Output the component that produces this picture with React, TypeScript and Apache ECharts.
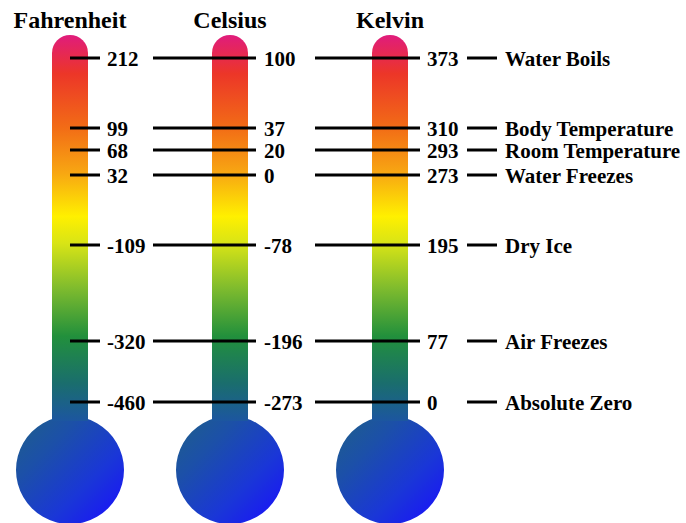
import React, { useEffect, useRef } from "react";
import * as echarts from "echarts";

const scaleNames = ["Fahrenheit", "Celsius", "Kelvin"];
const fahrenheitLabels = ["212", "99", "68", "32", "-109", "-320", "-460"];
const celsiusLabels = ["100", "37", "20", "0", "-78", "-196", "-273"];
const kelvinLabels = ["373", "310", "293", "273", "195", "77", "0"];
const descriptions = [
  "Water Boils",
  "Body Temperature",
  "Room Temperature",
  "Water Freezes",
  "Dry Ice",
  "Air Freezes",
  "Absolute Zero",
];
// schematic vertical level of each reference point (y-axis units, inverted)
const rowLevels = [58, 128, 150, 175, 245, 341, 402];

const FONT_FAMILY = "'Times New Roman', 'Liberation Serif', serif";

export default function App() {
  const ref = useRef<HTMLDivElement>(null);

  useEffect(() => {
    document.body.style.margin = "0";
    const chart = echarts.init(ref.current!, null, { renderer: "svg" });

    const tubeGradient = new echarts.graphic.LinearGradient(0, 0, 0, 1, [
      { offset: 0, color: "#e01c7c" },
      { offset: 0.1, color: "#ec3628" },
      { offset: 0.24, color: "#f26c16" },
      { offset: 0.36, color: "#f8a812" },
      { offset: 0.47, color: "#fff000" },
      { offset: 0.54, color: "#d8e416" },
      { offset: 0.66, color: "#7cba2e" },
      { offset: 0.78, color: "#22903c" },
      { offset: 0.9, color: "#1a6e6c" },
      { offset: 1, color: "#1c56a0" },
    ]);
    const bulbGradient = new echarts.graphic.LinearGradient(0, 0, 1, 1, [
      { offset: 0, color: "#1e6088" },
      { offset: 0.3, color: "#1c50a8" },
      { offset: 0.65, color: "#1a36d8" },
      { offset: 1, color: "#1a0cff" },
    ]);

    const rowData = rowLevels.map((lvl, i) => [i, lvl]);

    chart.setOption({
      animation: false,
      grid: { left: 70, right: 136, top: 0, bottom: 0 },
      xAxis: {
        type: "category",
        data: [...scaleNames, "Event"],
        boundaryGap: false,
        show: false,
      },
      yAxis: { type: "value", min: 0, max: 523, inverse: true, show: false },
      series: [
        {
          type: "custom",
          silent: true,
          clip: false,
          data: scaleNames.map((_, i) => [i, 0]),
          renderItem: (params: any, api: any) => {
            const idx = api.value(0);
            const top = api.coord([idx, 35]);
            const bottom = api.coord([idx, 421]);
            const bulb = api.coord([idx, 470]);
            const titlePos = api.coord([idx, 20]);
            const cx = top[0];
            return {
              type: "group",
              children: [
                {
                  type: "circle",
                  shape: { cx, cy: bulb[1], r: 54 },
                  style: { fill: bulbGradient },
                },
                {
                  type: "rect",
                  shape: { x: cx - 18, y: top[1], width: 36, height: bottom[1] - top[1], r: [18, 18, 0, 0] },
                  style: { fill: tubeGradient },
                },
                {
                  type: "text",
                  style: {
                    text: scaleNames[idx],
                    x: cx,
                    y: titlePos[1],
                    align: "center",
                    verticalAlign: "middle",
                    fontFamily: FONT_FAMILY,
                    fontWeight: "bold",
                    fontSize: 24,
                    fill: "#000",
                  },
                },
              ],
            };
          },
        },
        {
          type: "custom",
          silent: true,
          clip: false,
          data: rowData,
          renderItem: (params: any, api: any) => {
            const i = api.value(0);
            const lvl = api.value(1);
            const p = [0, 1, 2, 3].map((k) => api.coord([k, lvl]));
            const y = p[0][1];
            const seg = (x1: number, x2: number) => ({
              type: "line",
              shape: { x1, y1: y, x2, y2: y },
              style: { stroke: "#000", lineWidth: 3 },
            });
            const txt = (text: string, x: number) => ({
              type: "text",
              style: {
                text,
                x,
                y: y + 1,
                align: "left",
                verticalAlign: "middle",
                fontFamily: FONT_FAMILY,
                fontWeight: "bold",
                fontSize: 21,
                fill: "#000",
              },
            });
            return {
              type: "group",
              children: [
                seg(p[0][0], p[0][0] + 30),
                txt(fahrenheitLabels[i], p[0][0] + 37),
                seg(p[1][0] - 77, p[1][0] + 26),
                txt(celsiusLabels[i], p[1][0] + 34),
                seg(p[2][0] - 75, p[2][0] + 30),
                txt(kelvinLabels[i], p[2][0] + 37),
                seg(p[3][0] - 83, p[3][0] - 53),
                txt(descriptions[i], p[3][0] - 45),
              ],
            };
          },
        },
      ],
    });
    return () => chart.dispose();
  }, []);

  return <div ref={ref} style={{ width: 686, height: 523 }} />;
}
